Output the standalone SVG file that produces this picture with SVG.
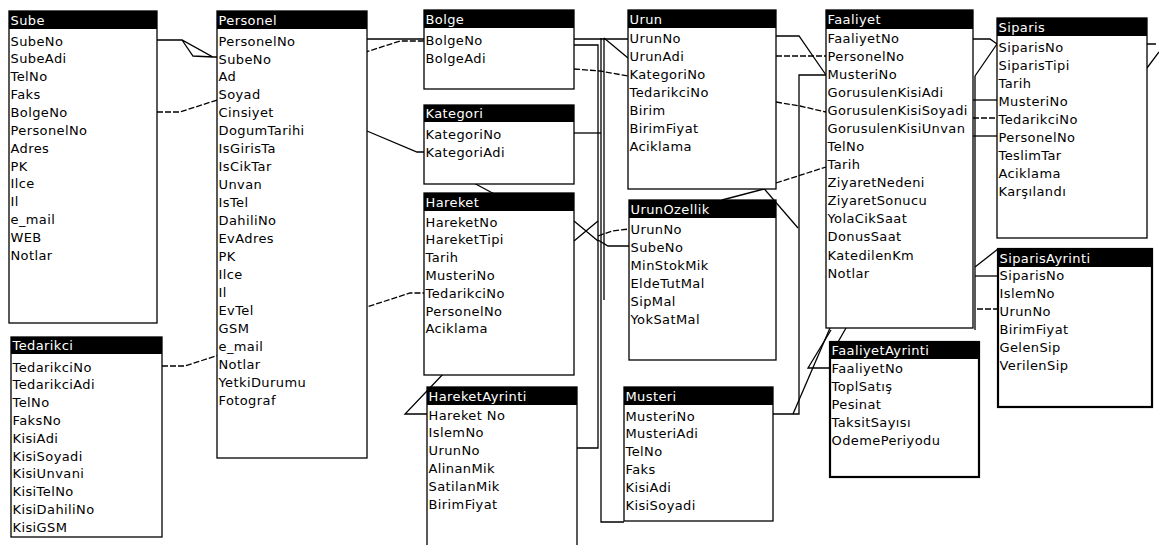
<svg xmlns="http://www.w3.org/2000/svg" width="1159" height="545" viewBox="0 0 1159 545">
<style>
.bx{fill:#fff;stroke:#000;stroke-width:1.3}
.bk{stroke-width:2.2}
.hd{fill:#000}
.t{font-family:"DejaVu Sans",sans-serif;font-size:13px;letter-spacing:0.4px;fill:#000}
.th{fill:#fff}
.c{fill:none;stroke:#000;stroke-width:1.3}
.d{stroke-dasharray:6 2}
</style>
<rect width="1159" height="545" fill="#fff"/>
<g id="connectors">
<path class="c" d="M157,40 H182 L213,57 H217 M182,40 L193,56 L213,57"/>
<path class="c d" d="M157,112 H180 L400,41 H424"/>
<path class="c d" d="M162,366 H185 L410,293 H424"/>
<path class="c" d="M367,39 H628"/>
<path class="c" d="M367,131 L417,152 H424"/>
<path class="c" d="M470,181 L500,197"/>
<path class="c" d="M445,372 L405,414 H427"/>
<path class="c" d="M574,45 H598 V448 H577"/>
<path class="c d" d="M574,69 L600,71 L628,76"/>
<path class="c" d="M574,133 H601"/>
<path class="c" d="M601,38 V522 H624"/>
<path class="c" d="M604,38 V300"/>
<path class="c" d="M604,38 L628,58"/>
<path class="c" d="M574,221 L598,241 M574,241 L598,221"/>
<path class="c d" d="M598,236 L612,231 L629,229"/>
<path class="c" d="M598,240 L608,246 H629"/>
<path class="c" d="M776,36 H799 L826,75"/>
<path class="c d" d="M776,56 H826"/>
<path class="c d" d="M776,102 L800,106 L826,112"/>
<path class="c d" d="M776,183 L826,167"/>
<path class="c" d="M760,184 L798,228"/>
<path class="c" d="M722,200 L768,188"/>
<path class="c" d="M826,75 H799 V414 H773"/>
<path class="c" d="M793,414 L830,328"/>
<path class="c" d="M831,330 L808,368 H830"/>
<path class="c" d="M846,328 L838,342"/>
<path class="c" d="M973,39 H990 L997,44 M975,76 L997,44"/>
<path class="c" d="M975,76 V330"/>
<path class="c" d="M973,100 H997"/>
<path class="c d" d="M973,118 H997"/>
<path class="c" d="M973,136 H997"/>
<path class="c" d="M975,267 L998,249"/>
<path class="c" d="M975,276 H998"/>
<path class="c d" d="M977,309 H998"/>
<path class="c" d="M1147,44 H1156 M1147,68 L1159,52"/>
</g>
<g id="sube">
<rect class="bx" x="9" y="11" width="148" height="312"/>
<rect class="hd" x="9" y="11" width="148" height="18"/>
<text class="t th" x="10.5" y="24.5">Sube</text>
<text class="t" x="10.5" y="45.5">SubeNo</text>
<text class="t" x="10.5" y="63.4">SubeAdi</text>
<text class="t" x="10.5" y="81.2">TelNo</text>
<text class="t" x="10.5" y="99.1">Faks</text>
<text class="t" x="10.5" y="116.9">BolgeNo</text>
<text class="t" x="10.5" y="134.8">PersonelNo</text>
<text class="t" x="10.5" y="152.6">Adres</text>
<text class="t" x="10.5" y="170.5">PK</text>
<text class="t" x="10.5" y="188.3">Ilce</text>
<text class="t" x="10.5" y="206.2">Il</text>
<text class="t" x="10.5" y="224">e_mail</text>
<text class="t" x="10.5" y="241.9">WEB</text>
<text class="t" x="10.5" y="259.7">Notlar</text>
</g>
<g id="personel">
<rect class="bx" x="217" y="11" width="150" height="447"/>
<rect class="hd" x="217" y="11" width="150" height="18"/>
<text class="t th" x="218.5" y="24.5">Personel</text>
<text class="t" x="218.5" y="45.5">PersonelNo</text>
<text class="t" x="218.5" y="63.5">SubeNo</text>
<text class="t" x="218.5" y="81.4">Ad</text>
<text class="t" x="218.5" y="99.4">Soyad</text>
<text class="t" x="218.5" y="117.3">Cinsiyet</text>
<text class="t" x="218.5" y="135.3">DogumTarihi</text>
<text class="t" x="218.5" y="153.2">IsGirisTa</text>
<text class="t" x="218.5" y="171.2">IsCikTar</text>
<text class="t" x="218.5" y="189.1">Unvan</text>
<text class="t" x="218.5" y="207.1">IsTel</text>
<text class="t" x="218.5" y="225">DahiliNo</text>
<text class="t" x="218.5" y="243">EvAdres</text>
<text class="t" x="218.5" y="260.9">PK</text>
<text class="t" x="218.5" y="278.9">Ilce</text>
<text class="t" x="218.5" y="296.8">Il</text>
<text class="t" x="218.5" y="314.8">EvTel</text>
<text class="t" x="218.5" y="332.7">GSM</text>
<text class="t" x="218.5" y="350.7">e_mail</text>
<text class="t" x="218.5" y="368.6">Notlar</text>
<text class="t" x="218.5" y="386.6">YetkiDurumu</text>
<text class="t" x="218.5" y="404.5">Fotograf</text>
</g>
<g id="tedarikci">
<rect class="bx" x="11" y="337" width="151" height="200"/>
<rect class="hd" x="11" y="337" width="151" height="17"/>
<text class="t th" x="12.5" y="350">Tedarikci</text>
<text class="t" x="12.5" y="371.5">TedarikciNo</text>
<text class="t" x="12.5" y="389.3">TedarikciAdi</text>
<text class="t" x="12.5" y="407.1">TelNo</text>
<text class="t" x="12.5" y="424.9">FaksNo</text>
<text class="t" x="12.5" y="442.7">KisiAdi</text>
<text class="t" x="12.5" y="460.5">KisiSoyadi</text>
<text class="t" x="12.5" y="478.3">KisiUnvani</text>
<text class="t" x="12.5" y="496.1">KisiTelNo</text>
<text class="t" x="12.5" y="513.9">KisiDahiliNo</text>
<text class="t" x="12.5" y="531.7">KisiGSM</text>
</g>
<g id="bolge">
<rect class="bx" x="424" y="10" width="150" height="79"/>
<rect class="hd" x="424" y="10" width="150" height="18"/>
<text class="t th" x="425.5" y="23.5">Bolge</text>
<text class="t" x="425.5" y="44.5">BolgeNo</text>
<text class="t" x="425.5" y="62.5">BolgeAdi</text>
</g>
<g id="kategori">
<rect class="bx" x="424" y="105" width="150" height="79"/>
<rect class="hd" x="424" y="105" width="150" height="17"/>
<text class="t th" x="425.5" y="118">Kategori</text>
<text class="t" x="425.5" y="138.5">KategoriNo</text>
<text class="t" x="425.5" y="156.5">KategoriAdi</text>
</g>
<g id="hareket">
<rect class="bx" x="424" y="193" width="150" height="182"/>
<rect class="hd" x="424" y="193" width="150" height="18"/>
<text class="t th" x="425.5" y="206.5">Hareket</text>
<text class="t" x="425.5" y="226.5">HareketNo</text>
<text class="t" x="425.5" y="244.3">HareketTipi</text>
<text class="t" x="425.5" y="262.1">Tarih</text>
<text class="t" x="425.5" y="279.9">MusteriNo</text>
<text class="t" x="425.5" y="297.7">TedarikciNo</text>
<text class="t" x="425.5" y="315.5">PersonelNo</text>
<text class="t" x="425.5" y="333.3">Aciklama</text>
</g>
<g id="hareketayrinti">
<rect class="bx" x="427" y="387" width="150" height="170"/>
<rect class="hd" x="427" y="387" width="150" height="18"/>
<text class="t th" x="428.5" y="400.5">HareketAyrinti</text>
<text class="t" x="428.5" y="419.5">Hareket No</text>
<text class="t" x="428.5" y="437.3">IslemNo</text>
<text class="t" x="428.5" y="455.1">UrunNo</text>
<text class="t" x="428.5" y="472.9">AlinanMik</text>
<text class="t" x="428.5" y="490.7">SatilanMik</text>
<text class="t" x="428.5" y="508.5">BirimFiyat</text>
</g>
<g id="urun">
<rect class="bx" x="628" y="10" width="148" height="179"/>
<rect class="hd" x="628" y="10" width="148" height="18"/>
<text class="t th" x="629.5" y="23.5">Urun</text>
<text class="t" x="629.5" y="42.5">UrunNo</text>
<text class="t" x="629.5" y="60.6">UrunAdi</text>
<text class="t" x="629.5" y="78.7">KategoriNo</text>
<text class="t" x="629.5" y="96.8">TedarikciNo</text>
<text class="t" x="629.5" y="114.9">Birim</text>
<text class="t" x="629.5" y="133">BirimFiyat</text>
<text class="t" x="629.5" y="151.1">Aciklama</text>
</g>
<g id="urunozellik">
<rect class="bx" x="629" y="200" width="147" height="160"/>
<rect class="hd" x="629" y="200" width="147" height="18"/>
<text class="t th" x="630.5" y="213.5">UrunOzellik</text>
<text class="t" x="630.5" y="233.5">UrunNo</text>
<text class="t" x="630.5" y="251.5">SubeNo</text>
<text class="t" x="630.5" y="269.5">MinStokMik</text>
<text class="t" x="630.5" y="287.5">EldeTutMal</text>
<text class="t" x="630.5" y="305.5">SipMal</text>
<text class="t" x="630.5" y="323.5">YokSatMal</text>
</g>
<g id="musteri">
<rect class="bx" x="624" y="387" width="149" height="134"/>
<rect class="hd" x="624" y="387" width="149" height="18"/>
<text class="t th" x="625.5" y="400.5">Musteri</text>
<text class="t" x="625.5" y="420.5">MusteriNo</text>
<text class="t" x="625.5" y="438.3">MusteriAdi</text>
<text class="t" x="625.5" y="456.1">TelNo</text>
<text class="t" x="625.5" y="473.9">Faks</text>
<text class="t" x="625.5" y="491.7">KisiAdi</text>
<text class="t" x="625.5" y="509.5">KisiSoyadi</text>
</g>
<g id="faaliyet">
<rect class="bx" x="826" y="10" width="147" height="318"/>
<rect class="hd" x="826" y="10" width="147" height="19"/>
<text class="t th" x="827.5" y="24">Faaliyet</text>
<text class="t" x="827.5" y="42.5">FaaliyetNo</text>
<text class="t" x="827.5" y="60.6">PersonelNo</text>
<text class="t" x="827.5" y="78.7">MusteriNo</text>
<text class="t" x="827.5" y="96.7">GorusulenKisiAdi</text>
<text class="t" x="827.5" y="114.8">GorusulenKisiSoyadi</text>
<text class="t" x="827.5" y="132.9">GorusulenKisiUnvan</text>
<text class="t" x="827.5" y="151">TelNo</text>
<text class="t" x="827.5" y="169.1">Tarih</text>
<text class="t" x="827.5" y="187.1">ZiyaretNedeni</text>
<text class="t" x="827.5" y="205.2">ZiyaretSonucu</text>
<text class="t" x="827.5" y="223.3">YolaCikSaat</text>
<text class="t" x="827.5" y="241.4">DonusSaat</text>
<text class="t" x="827.5" y="259.5">KatedilenKm</text>
<text class="t" x="827.5" y="277.5">Notlar</text>
</g>
<g id="faaliyetayrinti">
<rect class="bx bk" x="830" y="342" width="149" height="135"/>
<rect class="hd" x="830" y="342" width="149" height="17"/>
<text class="t th" x="831.5" y="355">FaaliyetAyrinti</text>
<text class="t" x="831.5" y="372.5">FaaliyetNo</text>
<text class="t" x="831.5" y="390.7">ToplSatış</text>
<text class="t" x="831.5" y="408.9">Pesinat</text>
<text class="t" x="831.5" y="427.1">TaksitSayısı</text>
<text class="t" x="831.5" y="445.3">OdemePeriyodu</text>
</g>
<g id="siparis">
<rect class="bx" x="997" y="18" width="150" height="220"/>
<rect class="hd" x="997" y="18" width="150" height="18"/>
<text class="t th" x="998.5" y="31.5">Siparis</text>
<text class="t" x="998.5" y="51.5">SiparisNo</text>
<text class="t" x="998.5" y="69.6">SiparisTipi</text>
<text class="t" x="998.5" y="87.7">Tarih</text>
<text class="t" x="998.5" y="105.8">MusteriNo</text>
<text class="t" x="998.5" y="123.9">TedarikciNo</text>
<text class="t" x="998.5" y="142">PersonelNo</text>
<text class="t" x="998.5" y="160.1">TeslimTar</text>
<text class="t" x="998.5" y="178.2">Aciklama</text>
<text class="t" x="998.5" y="196.3">Karşılandı</text>
</g>
<g id="siparisayrinti">
<rect class="bx bk" x="998" y="249" width="154" height="158"/>
<rect class="hd" x="998" y="249" width="154" height="18"/>
<text class="t th" x="999.5" y="262.5">SiparisAyrinti</text>
<text class="t" x="999.5" y="279.5">SiparisNo</text>
<text class="t" x="999.5" y="297.5">IslemNo</text>
<text class="t" x="999.5" y="315.5">UrunNo</text>
<text class="t" x="999.5" y="333.5">BirimFiyat</text>
<text class="t" x="999.5" y="351.5">GelenSip</text>
<text class="t" x="999.5" y="369.5">VerilenSip</text>
</g>
</svg>
